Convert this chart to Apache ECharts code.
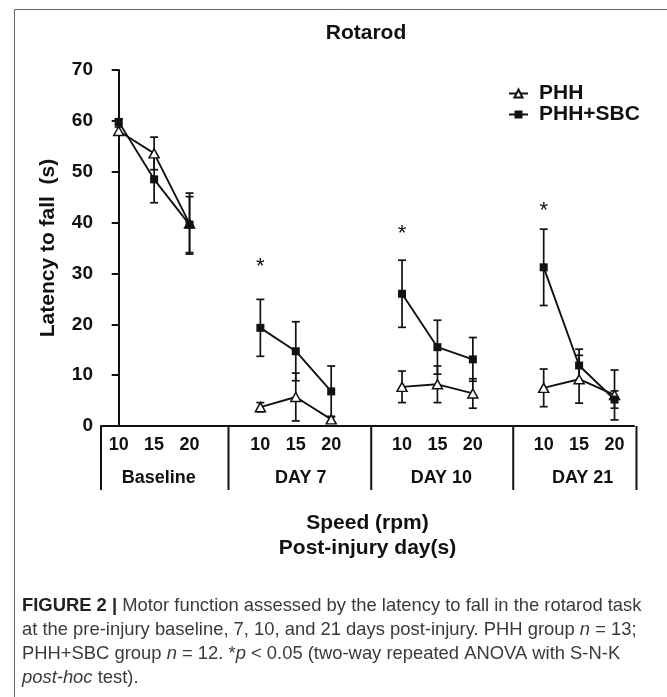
<!DOCTYPE html>
<html><head><meta charset="utf-8">
<script src="https://cdn.jsdelivr.net/npm/echarts@6/dist/echarts.min.js"></script>
<style>html,body{margin:0;padding:0;background:#fff;}#c{width:667px;height:697px;}</style>
</head><body><div id="c"></div>
<script>
// ---- data ----
const positions = [0, 1, 2, 4, 5, 6, 8, 9, 10, 12, 13, 14];
const speedLabels = ['10', '15', '20', '10', '15', '20', '10', '15', '20', '10', '15', '20'];
const groupNames = ['Baseline', 'DAY 7', 'DAY 10', 'DAY 21'];
const groupLabelPos = [1.13, 5.14, 9.11, 13.1];
const groupDividers = [-0.5, 3.1, 7.13, 11.14, 14.62];
const phhMean = [58.0, 53.6, 39.8, 3.7, 5.7, 1.3, 7.7, 8.2, 6.4, 7.5, 9.2, 6.1];
const phhErr  = [0.8, 3.2, 6.0, 0.9, 4.7, 0.6, 3.1, 3.6, 2.9, 3.7, 4.7, 4.9];
const sbcMean = [59.8, 48.5, 39.6, 19.3, 14.7, 6.8, 26.0, 15.5, 13.1, 31.2, 11.9, 5.2];
const sbcErr  = [0.5, 4.6, 5.5, 5.6, 5.8, 5.0, 6.6, 5.3, 4.3, 7.5, 3.2, 1.7];
const sigPos = [4, 8, 12];
const sigY = [31.3, 37.8, 42.3];
const yTicks = [0, 10, 20, 30, 40, 50, 60, 70];

const FONT = "'Liberation Sans', Arial, Helvetica, sans-serif";
const INK = '#111';

function lineData(means) {
  const out = [];
  positions.forEach((p, i) => {
    if (i > 0 && p - positions[i - 1] > 1) out.push([p - 1, '-']);
    out.push([p, means[i]]);
  });
  return out;
}
function errData(means, errs) {
  return positions.map((p, i) => [p, means[i], errs[i]]);
}
function renderErr(params, api) {
  const x = api.value(0), y = api.value(1), e = api.value(2);
  const top = api.coord([x, y + e]);
  const bot = api.coord([x, y - e]);
  const cap = 4;
  const st = { stroke: INK, lineWidth: 1.7 };
  return {
    type: 'group',
    children: [
      { type: 'line', shape: { x1: top[0], y1: top[1], x2: bot[0], y2: bot[1] }, style: st },
      { type: 'line', shape: { x1: top[0] - cap, y1: top[1], x2: top[0] + cap, y2: top[1] }, style: st },
      { type: 'line', shape: { x1: bot[0] - cap, y1: bot[1], x2: bot[0] + cap, y2: bot[1] }, style: st }
    ]
  };
}

const chart = echarts.init(document.getElementById('c'), null, { renderer: 'canvas' });

const xMin = -0.5, xMax = 14.55;

const captionLines = [
  '{b|FIGURE 2 |} Motor function assessed by the latency to fall in the rotarod task',
  'at the pre-injury baseline, 7, 10, and 21 days post-injury. PHH group {i|n} = 13;',
  'PHH+SBC group {i|n} = 12. *{i|p} < 0.05 (two-way repeated ANOVA with S-N-K',
  '{i|post-hoc} test).'
];
const captionY = [606, 630, 654, 678];
const CAP_FS = 18.4;

const option = {
  animation: false,
  backgroundColor: '#fff',
  textStyle: { fontFamily: FONT },
  grid: { left: 101, right: 33, top: 70, bottom: 271, containLabel: false },
  legend: {
    orient: 'vertical', left: 503, top: 78,
    itemWidth: 19, itemHeight: 10, itemGap: 0,
    data: ['PHH', 'PHH+SBC'],
    textStyle: { fontSize: 21, fontWeight: 'bold', color: INK, fontFamily: FONT, lineHeight: 21, padding: [0, 0, 0, 6] }
  },
  xAxis: [
    {
      type: 'value', min: xMin, max: xMax, position: 'bottom',
      axisLine: { show: true, lineStyle: { color: INK, width: 2 } },
      axisTick: { show: false },
      splitLine: { show: false },
      axisLabel: {
        customValues: positions, margin: 10,
        fontSize: 18, fontWeight: 'bold', color: INK, fontFamily: FONT,
        formatter: v => { const k = positions.indexOf(v); return k >= 0 ? speedLabels[k] : ''; }
      },
      name: 'Speed (rpm)\nPost-injury day(s)', nameLocation: 'middle', nameGap: 85,
      nameTextStyle: { fontSize: 21, fontWeight: 'bold', color: INK, lineHeight: 25, fontFamily: FONT }
    },
    {
      type: 'value', min: xMin, max: xMax, position: 'bottom',
      axisLine: { show: false }, axisTick: { show: false }, splitLine: { show: false },
      axisLabel: {
        customValues: groupLabelPos, margin: 43,
        fontSize: 18, fontWeight: 'bold', color: INK, fontFamily: FONT,
        formatter: v => { const k = groupLabelPos.indexOf(v); return k >= 0 ? groupNames[k] : ''; }
      }
    }
  ],
  yAxis: {
    type: 'value', min: 0, max: 70, interval: 10,
    axisLine: { show: true, lineStyle: { color: INK, width: 2 } },
    axisTick: { show: true, length: 7, lineStyle: { color: INK, width: 2 } },
    splitLine: { show: false },
    axisLabel: { margin: 8, fontSize: 19, fontWeight: 'bold', color: INK, fontFamily: FONT,
      formatter: v => yTicks.indexOf(v) >= 0 ? String(v) : '' },
    name: 'Latency to fall  (s)', nameLocation: 'middle', nameGap: 42,
    nameTextStyle: { fontSize: 21, fontWeight: 'bold', color: INK, fontFamily: FONT }
  },
  graphic: [
    { type: 'rect', shape: { x: 14.5, y: 9.5, width: 720, height: 740 }, style: { fill: 'none', stroke: '#666', lineWidth: 1 }, silent: true },
    { type: 'text', x: 366, y: 33, style: { text: 'Rotarod', fontSize: 21, fontWeight: 'bold', fill: INK, align: 'center', verticalAlign: 'middle', fontFamily: FONT } }
  ].concat(captionLines.map((t, i) => ({
    type: 'text', x: 22, y: captionY[i],
    style: {
      text: t, fontSize: CAP_FS, fill: '#3a3a3a', align: 'left', verticalAlign: 'middle', fontFamily: FONT,
      rich: {
        b: { fontWeight: 'bold', fontSize: CAP_FS, fill: '#222', fontFamily: FONT },
        i: { fontStyle: 'italic', fontSize: CAP_FS, fill: '#3a3a3a', fontFamily: FONT }
      }
    }
  }))),
  series: [
    {
      name: 'dividers', type: 'custom', xAxisIndex: 0, clip: false, z: 3, silent: true,
      data: groupDividers.map(d => [d, 0]),
      renderItem: (params, api) => {
        const p = api.coord([api.value(0), api.value(1)]);
        return { type: 'line', shape: { x1: p[0], y1: p[1], x2: p[0], y2: p[1] + 64 }, style: { stroke: INK, lineWidth: 2 } };
      }
    },
    { name: 'PHH err', type: 'custom', z: 2, clip: false, data: errData(phhMean, phhErr), renderItem: renderErr, silent: true },
    { name: 'PHH+SBC err', type: 'custom', z: 2, clip: false, data: errData(sbcMean, sbcErr), renderItem: renderErr, silent: true },
    {
      name: 'PHH', type: 'line', z: 5, data: lineData(phhMean), connectNulls: false,
      symbol: 'triangle', symbolSize: [10, 9], showAllSymbol: true,
      itemStyle: { color: '#fff', borderColor: INK, borderWidth: 1.5 },
      lineStyle: { color: INK, width: 1.9 }
    },
    {
      name: 'PHH+SBC', type: 'line', z: 6, data: lineData(sbcMean), connectNulls: false,
      symbol: 'rect', symbolSize: 8, showAllSymbol: true,
      itemStyle: { color: INK, borderColor: INK, borderWidth: 0 },
      lineStyle: { color: INK, width: 1.9 }
    },
    {
      name: 'sig', type: 'custom', z: 7, silent: true,
      data: sigPos.map((p, i) => [p, sigY[i]]),
      renderItem: (params, api) => {
        const p = api.coord([api.value(0), api.value(1)]);
        return { type: 'text', x: p[0], y: p[1], style: { text: '*', fontSize: 22, fill: INK, align: 'center', verticalAlign: 'middle', fontFamily: FONT } };
      }
    }
  ]
};
chart.setOption(option);
</script>
</body></html>
